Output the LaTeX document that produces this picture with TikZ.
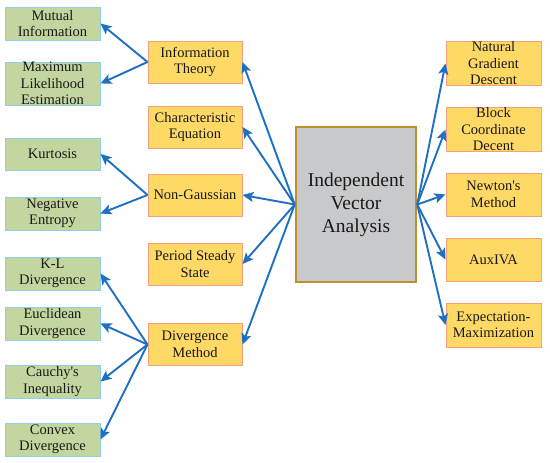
\documentclass[tikz,border=0pt]{standalone}
\usepackage{fontspec}
\setmainfont{Liberation Serif}
\usetikzlibrary{arrows.meta}

\definecolor{leafgreen}{RGB}{196,214,160}
\definecolor{leafedge}{RGB}{140,208,232}
\definecolor{midorange}{RGB}{255,217,102}
\definecolor{midedge}{RGB}{244,162,125}
\definecolor{rootgray}{RGB}{200,201,203}
\definecolor{rootedge}{RGB}{190,145,45}
\definecolor{linkblue}{RGB}{31,112,192}

\tikzset{
  leafbox/.style={draw=leafedge, fill=leafgreen, line width=1pt, inner sep=0pt,
    minimum width=95pt, minimum height=33pt, align=center,
    font=\fontsize{14.5}{16.5}\selectfont, text=black!90},
  methodbox/.style={draw=midedge, fill=midorange, line width=1pt, inner sep=0pt,
    minimum width=94pt, minimum height=42pt, align=center,
    font=\fontsize{14.5}{16.5}\selectfont, text=black!90},
  rootbox/.style={draw=rootedge, fill=rootgray, line width=2.5pt, inner sep=0pt,
    minimum width=120pt, minimum height=155pt, align=center,
    font=\fontsize{19.5}{23}\selectfont, text=black!90},
  link/.style={draw=linkblue, line width=1.9pt,
    -{Stealth[length=11pt,width=10pt,inset=2.5pt]}}
}

\begin{document}
\begin{tikzpicture}[x=1pt,y=-1pt]
\useasboundingbox (0,0) rectangle (550,463);

% centre
\node[rootbox] (iva) at (356,204.5) {Independent\\Vector\\Analysis};

% left methods
\node[methodbox] (infotheory) at (195,62) {Information\\Theory};
\node[methodbox] (chareq) at (195,127) {Characteristic\\Equation};
\node[methodbox] (nongauss) at (195,195) {Non-Gaussian};
\node[methodbox] (period) at (195,264) {Period Steady\\State};
\node[methodbox] (divmethod) at (195,344.5) {Divergence\\Method};

% leaves
\node[leafbox] (mutual) at (52.5,23.5) {Mutual\\Information};
\node[leafbox, minimum height=43pt] (maxlik) at (52.5,83.5) {Maximum\\Likelihood\\Estimation};
\node[leafbox, minimum height=32pt] (kurtosis) at (52.5,154) {Kurtosis};
\node[leafbox] (negent) at (52.5,213.5) {Negative\\Entropy};
\node[leafbox] (kldiv) at (52.5,273.5) {K-L\\Divergence};
\node[leafbox] (eucdiv) at (52.5,323.5) {Euclidean\\Divergence};
\node[leafbox] (cauchy) at (52.5,381.5) {Cauchy\textquotesingle s\\Inequality};
\node[leafbox] (convdiv) at (52.5,439.5) {Convex\\Divergence};

% right methods
\node[methodbox, minimum width=95pt, minimum height=43pt] (natgrad) at (493.5,63.5) {Natural\\Gradient\\Descent};
\node[methodbox, minimum width=95pt, minimum height=43pt] (blockdesc) at (493.5,129.5) {Block\\Coordinate\\Decent};
\node[methodbox, minimum width=95pt, minimum height=43pt] (newton) at (493.5,194.5) {Newton\textquotesingle s\\Method};
\node[methodbox, minimum width=95pt, minimum height=43pt] (auxiva) at (493.5,259.5) {AuxIVA};
\node[methodbox, minimum width=95pt, minimum height=44pt] (emalg) at (493.5,325) {Expectation-\\Maximization};

\draw[link] (iva.west) -- (infotheory.east);
\draw[link] (iva.west) -- (chareq.east);
\draw[link] (iva.west) -- (nongauss.east);
\draw[link] (iva.west) -- (period.east);
\draw[link] (iva.west) -- (divmethod.east);

\draw[link] (iva.east) -- (natgrad.west);
\draw[link] (iva.east) -- (blockdesc.west);
\draw[link] (iva.east) -- (newton.west);
\draw[link] (iva.east) -- (auxiva.west);
\draw[link] (iva.east) -- (emalg.west);

\draw[link] (infotheory.west) -- (mutual.east);
\draw[link] (infotheory.west) -- (maxlik.east);

\draw[link] (nongauss.west) -- (kurtosis.east);
\draw[link] (nongauss.west) -- (negent.east);

\draw[link] (divmethod.west) -- (kldiv.east);
\draw[link] (divmethod.west) -- (eucdiv.east);
\draw[link] (divmethod.west) -- (cauchy.east);
\draw[link] (divmethod.west) -- (convdiv.east);

\end{tikzpicture}
\end{document}
